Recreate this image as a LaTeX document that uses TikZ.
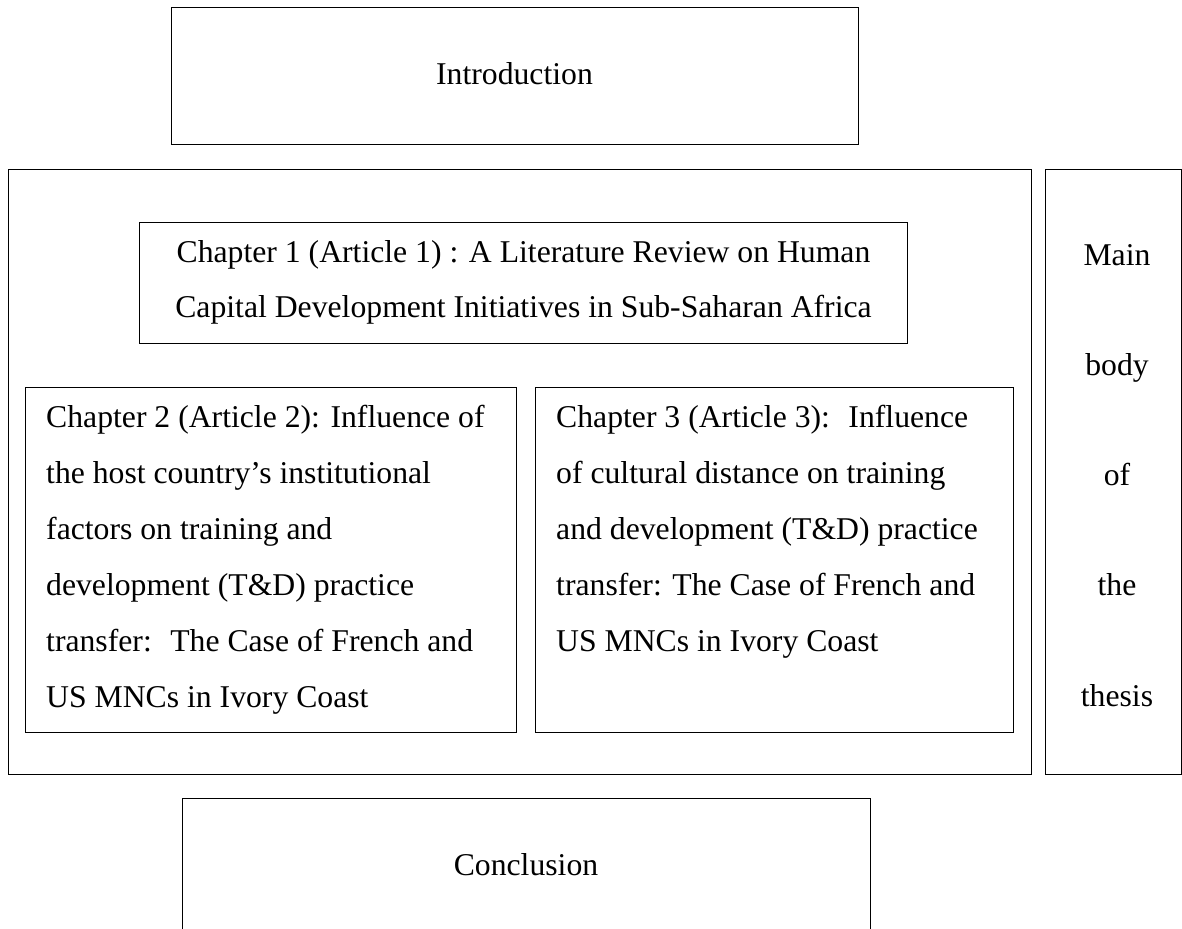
\documentclass[tikz,border=0pt]{standalone}
\usepackage{fontspec}
\setmainfont{Liberation Serif}
\begin{document}
\begin{tikzpicture}[x=1pt,y=-1pt,
  frame/.style={draw=black, line width=0.9pt, inner sep=0pt, anchor=north west},
  txt/.style={font=\fontsize{31.7}{56}\selectfont, inner sep=0pt},
  tallspacing/.style={font=\fontsize{31.7}{110.25}\selectfont, inner sep=0pt}]
\useasboundingbox (0,0) rectangle (1182,928);
\clip (0,0) rectangle (1182,928);

% frames
\node[frame, minimum width=687pt, minimum height=137pt] (intro) at (171,7) {};
\node[frame, minimum width=1023pt, minimum height=605pt] (mainbox) at (8,169) {};
\node[frame, minimum width=136pt, minimum height=605pt] (side) at (1045,169) {};
\node[frame, minimum width=768pt, minimum height=121pt] (ch1) at (139,222) {};
\node[frame, minimum width=491pt, minimum height=345pt] (ch2) at (25,387) {};
\node[frame, minimum width=478pt, minimum height=345pt] (ch3) at (535,387) {};
\node[frame, minimum width=688pt, minimum height=160pt] (concl) at (182,798) {};

% texts
\node[txt, anchor=base] (introtext) at (514.5,85) {Introduction};
\node[txt, anchor=base] (concltext) at (526,875) {Conclusion};

\node[txt, font=\fontsize{31.7}{55}\selectfont, anchor=north, align=center] (ch1text) at (523.5,223.5)
  {\strut Chapter 1 (Article 1) : A Literature Review on Human\\
   Capital Development Initiatives in Sub-Saharan Africa};

\node[txt, anchor=north west, align=left] (ch2text) at (46,387.8)
  {\strut Chapter 2 (Article 2): Influence of\\
   the host country’s institutional\\
   factors on training and\\
   development (T\&D) practice\\
   transfer: \ The Case of French and\\
   US MNCs in Ivory Coast};

\node[txt, anchor=north west, align=left] (ch3text) at (556,387.8)
  {\strut Chapter 3 (Article 3): \ Influence\\
   of cultural distance on training\\
   and development (T\&D) practice\\
   transfer: The Case of French and\\
   US MNCs in Ivory Coast};

\node[tallspacing, anchor=north, align=center] (sidetext) at (1117,187.8)
  {\strut Main\\ body\\ of\\ the\\ thesis};
\end{tikzpicture}
\end{document}
